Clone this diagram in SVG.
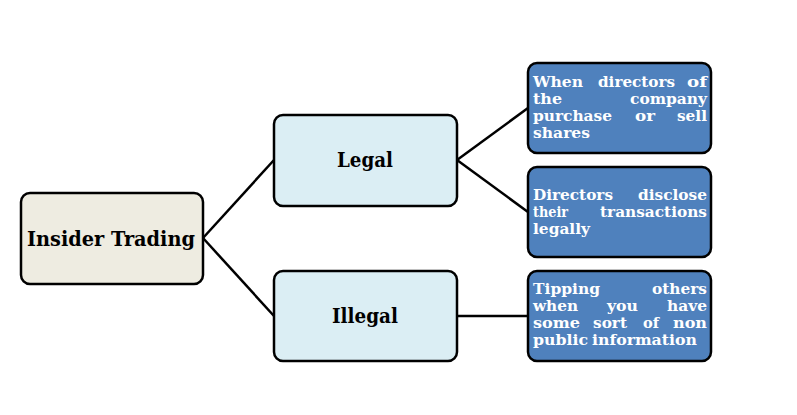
<svg xmlns="http://www.w3.org/2000/svg" width="797" height="415" viewBox="0 0 797 415">
<style>
.box{stroke:#000;stroke-width:2.5}
.root{fill:#eeece1}
.mid{fill:#dbeef4}
.leaf{fill:#4f81bd}
.t{font-family:"DejaVu Serif","Liberation Serif",serif;font-weight:bold;fill:#000}
.w{font-family:"DejaVu Serif","Liberation Serif",serif;font-weight:bold;font-size:14.5px;fill:#fff}
.c{stroke:#000;stroke-width:2.5;fill:none}
</style>
<rect width="797" height="415" fill="#fff"/>
<g id="connectors">
<line class="c" x1="203" y1="238" x2="274" y2="160"/>
<line class="c" x1="203" y1="238" x2="274" y2="316"/>
<line class="c" x1="457" y1="160" x2="528" y2="108"/>
<line class="c" x1="457" y1="160" x2="528" y2="212"/>
<line class="c" x1="457" y1="316" x2="528" y2="316"/>
</g>
<g id="insider-trading">
<rect class="box root" x="21" y="193" width="182" height="91" rx="9"/>
<text class="t" x="27" y="246" font-size="20" textLength="168" lengthAdjust="spacingAndGlyphs">Insider Trading</text>
</g>
<g id="legal">
<rect class="box mid" x="274" y="115" width="183" height="91" rx="9"/>
<text class="t" x="337" y="167" font-size="20" textLength="56" lengthAdjust="spacingAndGlyphs">Legal</text>
</g>
<g id="illegal">
<rect class="box mid" x="274" y="271" width="183" height="90" rx="9"/>
<text class="t" x="332" y="323" font-size="20" textLength="66" lengthAdjust="spacingAndGlyphs">Illegal</text>
</g>
<g id="leaf-1">
<rect class="box leaf" x="528" y="63" width="183" height="90" rx="9"/>
<text class="w" y="87"><tspan x="533" textLength="50" lengthAdjust="spacingAndGlyphs">When</tspan><tspan x="598" textLength="77" lengthAdjust="spacingAndGlyphs">directors</tspan><tspan x="687" textLength="20" lengthAdjust="spacingAndGlyphs">of</tspan></text>
<text class="w" y="104"><tspan x="533" textLength="29" lengthAdjust="spacingAndGlyphs">the</tspan><tspan x="630" textLength="77" lengthAdjust="spacingAndGlyphs">company</tspan></text>
<text class="w" y="121"><tspan x="533" textLength="79" lengthAdjust="spacingAndGlyphs">purchase</tspan><tspan x="635" textLength="20" lengthAdjust="spacingAndGlyphs">or</tspan><tspan x="677" textLength="30" lengthAdjust="spacingAndGlyphs">sell</tspan></text>
<text class="w" y="138"><tspan x="533" textLength="57" lengthAdjust="spacingAndGlyphs">shares</tspan></text>
</g>
<g id="leaf-2">
<rect class="box leaf" x="528" y="167" width="183" height="90" rx="9"/>
<text class="w" y="200"><tspan x="533" textLength="80" lengthAdjust="spacingAndGlyphs">Directors</tspan><tspan x="638" textLength="69" lengthAdjust="spacingAndGlyphs">disclose</tspan></text>
<text class="w" y="217"><tspan x="533" textLength="35" lengthAdjust="spacingAndGlyphs">their</tspan><tspan x="600" textLength="107" lengthAdjust="spacingAndGlyphs">transactions</tspan></text>
<text class="w" y="234"><tspan x="533" textLength="57" lengthAdjust="spacingAndGlyphs">legally</tspan></text>
</g>
<g id="leaf-3">
<rect class="box leaf" x="528" y="271" width="183" height="90" rx="9"/>
<text class="w" y="294"><tspan x="533" textLength="67" lengthAdjust="spacingAndGlyphs">Tipping</tspan><tspan x="652" textLength="55" lengthAdjust="spacingAndGlyphs">others</tspan></text>
<text class="w" y="311"><tspan x="533" textLength="45" lengthAdjust="spacingAndGlyphs">when</tspan><tspan x="607" textLength="31" lengthAdjust="spacingAndGlyphs">you</tspan><tspan x="667" textLength="40" lengthAdjust="spacingAndGlyphs">have</tspan></text>
<text class="w" y="328"><tspan x="533" textLength="47" lengthAdjust="spacingAndGlyphs">some</tspan><tspan x="593" textLength="34" lengthAdjust="spacingAndGlyphs">sort</tspan><tspan x="643" textLength="16" lengthAdjust="spacingAndGlyphs">of</tspan><tspan x="673" textLength="34" lengthAdjust="spacingAndGlyphs">non</tspan></text>
<text class="w" y="345"><tspan x="533" textLength="55" lengthAdjust="spacingAndGlyphs">public</tspan><tspan x="592" textLength="105" lengthAdjust="spacingAndGlyphs">information</tspan></text>
</g>
</svg>
